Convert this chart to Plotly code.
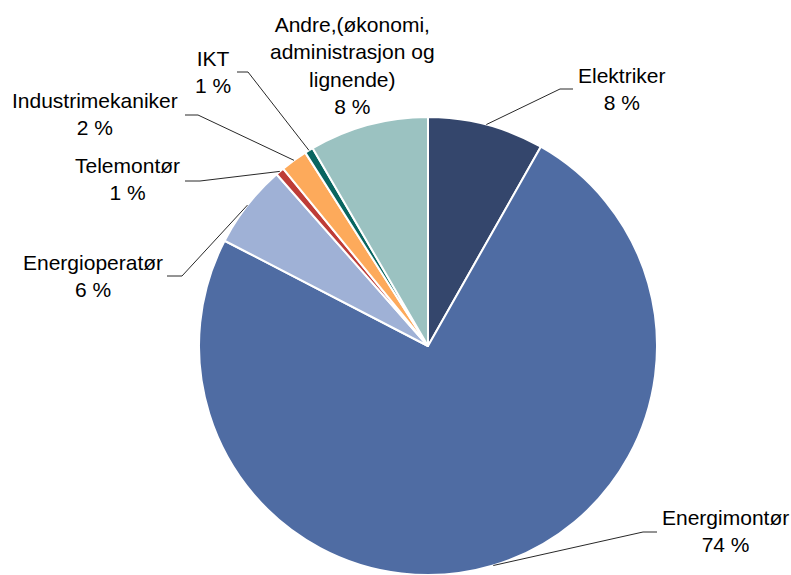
import math
import plotly.graph_objects as go

# Data
categories = ["Elektriker", "Energimontør", "Energioperatør", "Telemontør",
              "Industrimekaniker", "IKT", "Andre,(økonomi, administrasjon og lignende)"]
values = [8.2, 74.4, 5.9, 0.6, 1.9, 0.6, 8.4]

# Colors
colors = ['rgb(52,70,108)', 'rgb(79,108,163)', 'rgb(159,177,214)', 'rgb(190,60,55)',
          'rgb(253,170,91)', 'rgb(8,101,96)', 'rgb(155,194,193)']

W, H = 791, 575
CX, CY, R = 428, 346, 229  # pie centre / radius in px

# label layout: text wrap, label centre (px), elbow + end of leader line (px)
label_layout = {
    "Elektriker": dict(text="Elektriker", pos=(622, 89), line=[(560, 89), (573, 89)]),
    "Energimontør": dict(text="Energimontør", pos=(725, 531), line=[(643, 532), (657, 532)]),
    "Energioperatør": dict(text="Energioperatør", pos=(93, 276), line=[(182, 276), (167, 276)]),
    "Telemontør": dict(text="Telemontør", pos=(127, 179), line=[(200, 181), (185, 181)]),
    "Industrimekaniker": dict(text="Industrimekaniker", pos=(95, 114), line=[(198, 115), (185, 115)]),
    "IKT": dict(text="IKT", pos=(213, 72), line=[(248, 72), (237, 72)]),
    "Andre,(økonomi, administrasjon og lignende)": dict(
        text="Andre,(økonomi,<br>administrasjon og<br>lignende)", pos=(352, 66), line=None),
}


def px(x, y):
    # px -> paper coords
    return x / W, 1 - y / H


fig = go.Figure()
fig.add_trace(go.Pie(labels=categories, values=values, sort=False, direction='clockwise',
                     rotation=0, textinfo='none', hoverinfo='label+percent',
                     marker=dict(colors=colors, line=dict(color='white', width=2)),
                     domain=dict(x=[px(CX - R, 0)[0], px(CX + R, 0)[0]],
                                 y=[max(0, px(0, CY + R)[1]), px(0, CY - R)[1]]),
                     showlegend=False))

total = sum(values)
cum = 0
annotations = []
shapes = []
for name, v in zip(categories, values):
    mid = (cum + v / 2) / total * 2 * math.pi
    cum += v
    lay = label_layout[name]
    pct = f"{round(v / total * 100)} %"
    lx, ly = px(*lay["pos"])
    annotations.append(dict(x=lx, y=ly, xref='paper', yref='paper', showarrow=False,
                            xanchor='center', yanchor='middle',
                            text=lay["text"] + "<br>" + pct, align='center',
                            font=dict(family='Liberation Sans, Arial', size=21, color='black')))
    if lay["line"]:
        sx, sy = CX + R * math.sin(mid), CY - R * math.cos(mid)
        pts = [(sx, sy)] + lay["line"]
        path = "M " + " L ".join(f"{px(x, y)[0]},{px(x, y)[1]}" for x, y in pts)
        shapes.append(dict(type='path', path=path, xref='paper', yref='paper',
                           line=dict(color='rgb(40,40,40)', width=1)))

fig.update_layout(
    width=W, height=H,
    margin=dict(l=0, r=0, t=0, b=0),
    plot_bgcolor='white', paper_bgcolor='white',
    annotations=annotations, shapes=shapes,
)

# drop the default body margin so the figure fills the window exactly
fig.write_html("out.html", config={'displayModeBar': False},
               post_script="document.body.style.margin='0px';")
